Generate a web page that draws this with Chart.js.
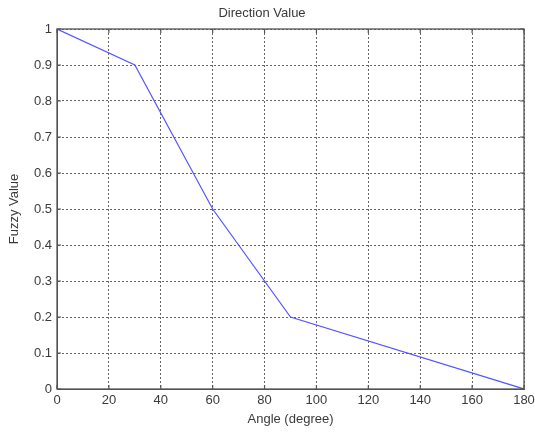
<!DOCTYPE html>
<html>
<head>
<meta charset="utf-8">
<script src="https://cdn.jsdelivr.net/npm/chart.js@4.4.0/dist/chart.umd.min.js"></script>
<style>
  body { margin: 0; background: #fff; }
  canvas { display: block; }
</style>
</head>
<body>
<canvas id="myChart" width="535" height="433"></canvas>
<script>
const angles = [0, 30, 60, 90, 180];
const fuzzyValues = [1, 0.9, 0.5, 0.2, 0];
const xTickLabels = ['0', '20', '40', '60', '80', '100', '120', '140', '160', '180'];
const yTickLabels = ['0', '0.1', '0.2', '0.3', '0.4', '0.5', '0.6', '0.7', '0.8', '0.9', '1'];

const FONT = { family: 'Liberation Sans, Arial, sans-serif', size: 13 };
const TEXT = '#3a3a3a';

// matlab style box with inward ticks on all four sides
const boxPlugin = {
  id: 'box',
  afterDraw(chart) {
    const { ctx, chartArea: a, scales } = chart;
    ctx.save();
    ctx.strokeStyle = '#555';
    ctx.lineWidth = 1.3;
    ctx.strokeRect(a.left, a.top, a.right - a.left, a.bottom - a.top);
    ctx.lineWidth = 1.2;
    ctx.beginPath();
    scales.x.ticks.forEach(t => {
      const px = scales.x.getPixelForValue(t.value);
      ctx.moveTo(px, a.bottom); ctx.lineTo(px, a.bottom - 4);
      ctx.moveTo(px, a.top); ctx.lineTo(px, a.top + 4);
    });
    scales.y.ticks.forEach(t => {
      const py = scales.y.getPixelForValue(t.value);
      ctx.moveTo(a.left, py); ctx.lineTo(a.left + 4, py);
      ctx.moveTo(a.right, py); ctx.lineTo(a.right - 4, py);
    });
    ctx.stroke();
    ctx.restore();
  }
};

const ctx = document.getElementById('myChart');

const chart = new Chart(ctx, {
  type: 'line',
  data: {
    datasets: [{
      data: angles.map((a, i) => ({ x: a, y: fuzzyValues[i] })),
      borderColor: 'rgb(85,85,255)',
      borderWidth: 1.2,
      pointRadius: 0,
      fill: false,
      tension: 0
    }]
  },
  options: {
    responsive: false,
    animation: false,
    layout: { padding: { top: 0, right: 11, bottom: 0, left: 0 } },
    plugins: {
      legend: { display: false },
      tooltip: { enabled: false },
      title: {
        display: true,
        text: 'Direction Value',
        color: TEXT,
        font: { ...FONT, weight: 'normal' },
        padding: { top: 5.5, bottom: 7.9 }
      }
    },
    scales: {
      x: {
        type: 'linear',
        min: 0,
        max: 180,
        afterFit(scale) {
          scale.height = 44;
          scale.paddingLeft = 0;
          scale.paddingRight = 0;
        },
        ticks: {
          stepSize: 20,
          color: TEXT,
          font: FONT,
          padding: 4,
          maxRotation: 0,
          callback: (v, i) => xTickLabels[i]
        },
        grid: { color: '#666', lineWidth: 1, drawTicks: false },
        border: { display: true, color: '#555', dash: [2, 2] },
        title: {
          display: true,
          text: 'Angle (degree)',
          color: TEXT,
          font: FONT,
          padding: { top: 0, bottom: 6 }
        }
      },
      y: {
        min: 0,
        max: 1,
        afterFit(scale) { scale.width = 57; },
        ticks: {
          stepSize: 0.1,
          color: TEXT,
          font: FONT,
          padding: 5,
          callback: (v, i) => yTickLabels[i]
        },
        grid: { color: '#666', lineWidth: 1, drawTicks: false },
        border: { display: true, color: '#555', dash: [2, 2] },
        title: {
          display: true,
          text: 'Fuzzy Value',
          color: TEXT,
          font: FONT,
          padding: { top: 7, bottom: 0 }
        }
      }
    }
  },
  plugins: [boxPlugin]
});
</script>
</body>
</html>
